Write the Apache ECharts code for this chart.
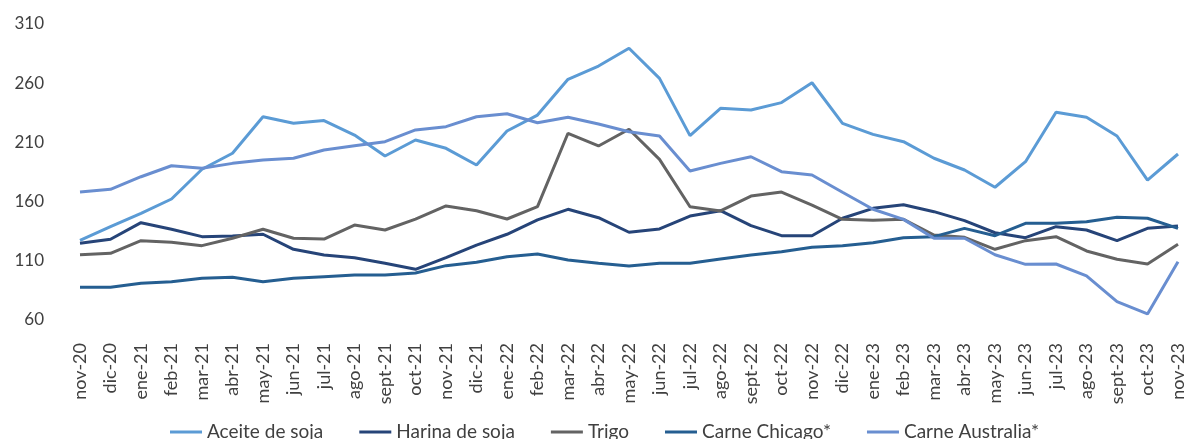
<!DOCTYPE html>
<html>
<head>
<meta charset="utf-8">
<script src="https://cdn.jsdelivr.net/npm/echarts@6.0.0/dist/echarts.min.js"></script>
<style>
  html, body { margin: 0; padding: 0; background: #fff; }
  #main { width: 1187px; height: 439px; }
</style>
</head>
<body>
<div id="main"></div>
<script>
// meses (eje x)
const months = ['nov-20', 'dic-20', 'ene-21', 'feb-21', 'mar-21', 'abr-21', 'may-21', 'jun-21', 'jul-21', 'ago-21',
  'sept-21', 'oct-21', 'nov-21', 'dic-21', 'ene-22', 'feb-22', 'mar-22', 'abr-22', 'may-22', 'jun-22', 'jul-22',
  'ago-22', 'sept-22', 'oct-22', 'nov-22', 'dic-22', 'ene-23', 'feb-23', 'mar-23', 'abr-23', 'may-23', 'jun-23',
  'jul-23', 'ago-23', 'sept-23', 'oct-23', 'nov-23']

const aceiteSoja = [127.3, 138.8, 150.1, 162.2, 187.3, 200.8, 231.7, 226.1, 228.4, 216.2, 198.5, 212.0, 205.0, 190.9,
  219.6, 233.1, 263.3, 274.5, 289.5, 264.1, 215.7, 238.8, 237.4, 243.6, 260.4, 226.1, 216.8, 210.6, 196.6, 186.7,
  172.1, 193.7, 235.4, 231.2, 215.4, 178.2, 200.2]
const harinaSoja = [124.8, 128.2, 142.2, 136.6, 130.4, 130.9, 132.4, 119.7, 114.9, 112.6, 107.9, 102.8, 112.6, 123.3,
  132.4, 144.5, 153.5, 146.4, 134.1, 136.9, 147.8, 152.3, 139.7, 131.2, 131.2, 145.9, 154.3, 157.4, 151.5, 143.9,
  133.7, 129.5, 138.8, 136.0, 127.0, 137.4, 139.4]
const trigo = [115.1, 116.3, 127.0, 125.6, 122.8, 129.0, 136.6, 129.0, 128.4, 140.2, 136.0, 145.2, 156.3, 152.3,
  145.3, 155.7, 217.7, 207.0, 221.1, 195.7, 155.7, 152.1, 164.7, 168.1, 157.0, 145.0, 144.2, 145.0, 131.8, 129.8,
  119.7, 127.0, 130.4, 118.3, 111.3, 107.3, 123.9]
const carneChicago = [87.6, 87.6, 91.0, 92.3, 95.2, 96.1, 92.3, 95.2, 96.6, 98.0, 98.0, 99.7, 105.9, 108.7,
  113.5, 115.7, 110.7, 107.9, 105.6, 107.9, 107.9, 111.5, 114.9, 117.7, 121.4, 122.8, 125.3, 129.5, 130.4, 137.4,
  131.2, 141.7, 141.7, 143.0, 146.7, 145.9, 137.4]
const carneAustralia = [168.1, 170.4, 181.0, 190.3, 188.1, 192.3, 195.1, 196.6, 203.6, 207.2, 210.6, 220.5, 223.3, 231.7,
  234.2, 226.6, 231.2, 225.5, 219.0, 215.4, 185.8, 192.3, 197.9, 185.3, 182.5, 167.9, 153.5, 145.0, 129.0, 129.0,
  115.1, 107.0, 107.3, 97.2, 75.5, 65.1, 109.2]

// eje y: 60 a 310 cada 50
const yMin = 60
const yMax = 310
const yStep = 50

const font = 'Lato, "Open Sans", sans-serif'

function line(name, data, color) {
  return {
    name: name,
    type: 'line',
    data: data,
    symbol: 'none',
    lineStyle: { color: color, width: 3 },
    itemStyle: { color: color },
  }
}

const myChart = echarts.init(document.getElementById('main'), null, { renderer: 'canvas' })
const option = {
  animation: false,
  textStyle: { fontFamily: font },
  grid: { left: 80, right: 7, top: 24, bottom: 119 },
  legend: {
    top: 417,
    left: 165,
    itemWidth: 32,
    itemHeight: 3,
    itemGap: 36,
    icon: 'rect',
    textStyle: { fontFamily: font, fontSize: 19, color: '#404040', lineHeight: 20 },
  },
  xAxis: {
    type: 'category',
    data: months,
    boundaryGap: false,
    axisLine: { show: false },
    axisTick: { show: false },
    axisLabel: { rotate: 90, margin: 23, fontFamily: font, fontSize: 18, color: '#404040', interval: 0 },
  },
  yAxis: {
    type: 'value',
    min: yMin,
    max: yMax,
    interval: yStep,
    splitLine: { show: false },
    axisLine: { show: false },
    axisLabel: { margin: 36, fontFamily: font, fontSize: 17, color: '#404040' },
  },
  series: [
    line('Aceite de soja', aceiteSoja, '#5B9BD5'),
    line('Harina de soja', harinaSoja, '#264478'),
    line('Trigo', trigo, '#636363'),
    line('Carne Chicago*', carneChicago, '#255E91'),
    line('Carne Australia*', carneAustralia, '#698ED0'),
  ],
}
option && myChart.setOption(option)
</script>
</body>
</html>
